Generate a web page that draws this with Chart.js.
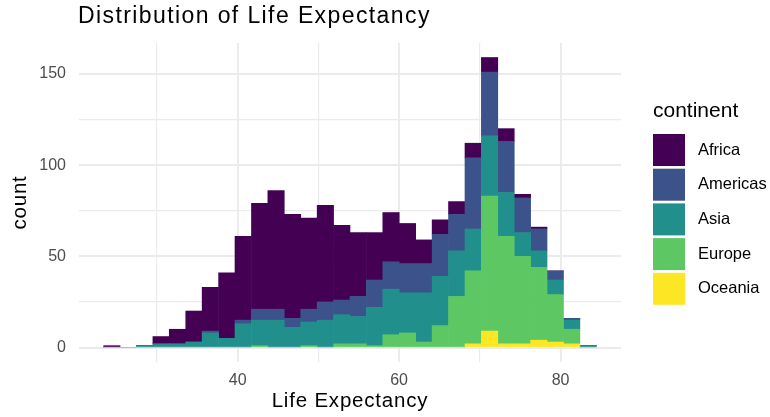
<!DOCTYPE html>
<html>
<head>
<meta charset="utf-8">
<script src="https://cdn.jsdelivr.net/npm/chart.js@4.4.1/dist/chart.umd.min.js"></script>
<style>
    html, body { margin: 0; padding: 0; background: #ffffff; }
    #wrap { width: 770px; height: 417px; position: relative; }
</style>
</head>
<body>
<div id="wrap"><canvas id="histChart"></canvas></div>
<script>
// bin centres of the 30 histogram bins (life expectancy, years)
const binCenters = [
    24.42, 26.45, 28.48, 30.52, 32.55, 34.59, 36.62, 38.66, 40.69, 42.73,
    44.76, 46.80, 48.83, 50.87, 52.90, 54.93, 56.97, 59.00, 61.04, 63.07,
    65.11, 67.14, 69.18, 71.21, 73.25, 75.28, 77.31, 79.35, 81.38, 83.42
];

const continents = ['Africa', 'Americas', 'Asia', 'Europe', 'Oceania'];

const africaCounts   = [1,0,0,4,8,17,24,36,46,58,65,57,50,53,41,35,26,27,22,13,8,7,8,8,7,2,1,0,0,0];
const americasCounts = [0,0,0,0,0,0,1,0,2,6,6,5,7,10,8,11,15,15,16,16,23,20,39,35,28,19,12,5,1,0];
const asiaCounts     = [0,0,1,2,2,3,8,5,13,14,15,11,13,15,16,15,21,25,22,27,27,25,23,33,24,13,9,8,5,1];
const europeCounts   = [0,0,0,0,0,0,0,0,0,1,0,0,1,0,2,2,1,7,8,3,12,28,40,74,59,48,40,26,8,0];
const oceaniaCounts  = [0,0,0,0,0,0,0,0,0,0,0,0,0,0,0,0,0,0,0,0,0,0,2,9,2,2,4,3,2,0];

// grid lines (major + minor) and the labelled ticks
const xGridValues = [30, 40, 50, 60, 70, 80];
const xTickLabels = [40, 60, 80];
const yGridValues = [0, 25, 50, 75, 100, 125, 150];
const yTickLabels = [0, 50, 100, 150];

const continentColors = ['#440154', '#3B528B', '#21908C', '#5DC863', '#FDE725'];

const countsByContinent = [africaCounts, americasCounts, asiaCounts, europeCounts, oceaniaCounts];

const FONT = "'Liberation Sans', Arial, Helvetica, sans-serif";

// ggplot stacks the first level on top, so build the datasets bottom-up
const datasets = continents.map((name, i) => ({
    label: name,
    data: binCenters.map((x, j) => ({ x: x, y: countsByContinent[i][j] })),
    backgroundColor: continentColors[i],
    borderWidth: 0,
    barPercentage: 1,
    categoryPercentage: 1
})).reverse();

const decorPlugin = {
    id: 'decor',
    afterDraw(chart) {
        const ctx = chart.ctx;
        const area = chart.chartArea;
        ctx.save();
        ctx.fillStyle = '#000000';

        // plot title
        ctx.font = '23px ' + FONT;
        ctx.letterSpacing = '1.4px';
        ctx.textAlign = 'left';
        ctx.textBaseline = 'alphabetic';
        ctx.fillText('Distribution of Life Expectancy', 78, 22.5);

        // axis titles
        ctx.font = '20.5px ' + FONT;
        ctx.letterSpacing = '0.8px';
        ctx.textAlign = 'center';
        ctx.textBaseline = 'middle';
        ctx.fillText('Life Expectancy', (area.left + area.right) / 2, 401);

        ctx.save();
        ctx.translate(20, (area.top + area.bottom) / 2);
        ctx.rotate(-Math.PI / 2);
        ctx.fillText('count', 0, 0);
        ctx.restore();

        // legend
        ctx.letterSpacing = '0px';
        ctx.textAlign = 'left';
        ctx.font = '21px ' + FONT;
        ctx.fillText('continent', 653, 111);

        ctx.font = '16.5px ' + FONT;
        continents.forEach((name, i) => {
            const top = 134 + i * 34.7;
            ctx.fillStyle = continentColors[i];
            ctx.fillRect(653, top, 32, 32);
            ctx.fillStyle = '#000000';
            ctx.fillText(name, 698, top + 16);
        });

        ctx.restore();
    }
};

const histChart = new Chart(document.getElementById('histChart').getContext('2d'), {
    type: 'bar',
    data: { datasets: datasets },
    options: {
        responsive: true,
        maintainAspectRatio: false,
        animation: false,
        devicePixelRatio: 1,
        layout: {
            padding: { top: 43, right: 149, bottom: 0, left: 0 }
        },
        plugins: {
            legend: { display: false },
            tooltip: { enabled: false },
            title: { display: false }
        },
        scales: {
            x: {
                type: 'linear',
                stacked: true,
                offset: false,
                min: 20.35,
                max: 87.49,
                afterFit: s => { s.height = 55; },
                afterBuildTicks: s => { s.ticks = xGridValues.map(v => ({ value: v })); },
                border: { display: false },
                grid: {
                    offset: false,
                    color: '#ebebeb',
                    drawTicks: false,
                    lineWidth: c => (c.tick && c.tick.value % 20 === 0) ? 1.9 : 1.2
                },
                ticks: {
                    autoSkip: false,
                    maxRotation: 0,
                    padding: 9,
                    color: '#4d4d4d',
                    font: { family: FONT, size: 16 },
                    callback: v => xTickLabels.includes(v) ? String(v) : ''
                }
            },
            y: {
                stacked: true,
                min: -7.95,
                max: 166.95,
                afterFit: s => { s.width = 79; },
                afterBuildTicks: s => { s.ticks = yGridValues.map(v => ({ value: v })); },
                border: { display: false },
                grid: {
                    color: '#ebebeb',
                    drawTicks: false,
                    lineWidth: c => (c.tick && c.tick.value % 50 === 0) ? 1.9 : 1.2
                },
                ticks: {
                    autoSkip: false,
                    padding: 13,
                    color: '#4d4d4d',
                    font: { family: FONT, size: 16 },
                    callback: v => yTickLabels.includes(v) ? String(v) : ''
                }
            }
        }
    },
    plugins: [decorPlugin]
});
</script>
</body>
</html>
